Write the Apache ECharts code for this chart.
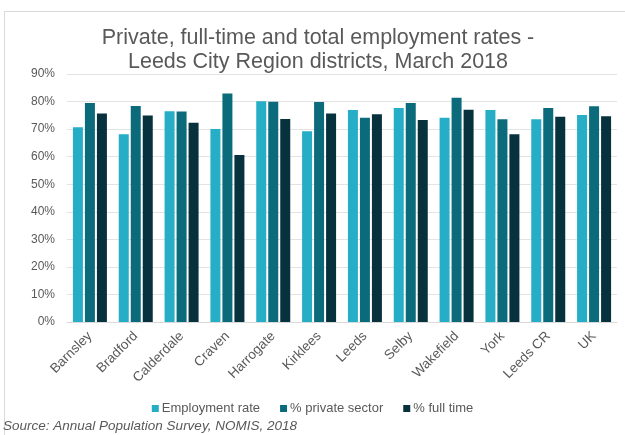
<!DOCTYPE html>
<html>
<head>
<meta charset="utf-8">
<script src="https://cdn.jsdelivr.net/npm/echarts@6/dist/echarts.min.js"></script>
<style>
  html, body { margin: 0; padding: 0; background: #fff; }
  #chart { width: 625px; height: 435px; }
</style>
</head>
<body>
<div id="chart"></div>
<script>
// Districts of the Leeds City Region plus comparators
const districts = ['Barnsley', 'Bradford', 'Calderdale', 'Craven', 'Harrogate', 'Kirklees',
  'Leeds', 'Selby', 'Wakefield', 'York', 'Leeds CR', 'UK'];

// Rates in percent, March 2018
const employmentRate = [70.7, 68.1, 76.5, 70.0, 80.1, 69.2, 76.9, 77.7, 74.1, 76.9, 73.6, 75.1];
const privateSector  = [79.5, 78.4, 76.4, 82.9, 79.9, 79.8, 74.1, 79.5, 81.4, 73.6, 77.7, 78.3];
const fullTime       = [75.7, 74.9, 72.3, 60.6, 73.7, 75.7, 75.4, 73.3, 77.0, 68.1, 74.5, 74.7];

const seriesNames = ['Employment rate', '% private sector', '% full time'];
const seriesColors = ['#25aec6', '#0b6b7b', '#06313d'];

const chart = echarts.init(document.getElementById('chart'), null, { renderer: 'canvas' });
const font = '"Liberation Sans", Arial, sans-serif';

const values = [employmentRate, privateSector, fullTime];

chart.setOption({
  animation: false,
  textStyle: { fontFamily: font },
  title: {
    text: 'Private, full-time and total employment rates -\nLeeds City Region districts, March 2018',
    left: 313,
    top: 21,
    textAlign: 'center',
    textStyle: { fontFamily: font, fontSize: 21.5, fontWeight: 'normal', color: '#595959', lineHeight: 24 }
  },
  legend: {
    data: seriesNames,
    left: 'center',
    top: 397,
    itemWidth: 7,
    itemHeight: 7,
    itemGap: 20,
    icon: 'rect',
    textStyle: { fontFamily: font, fontSize: 13, color: '#595959', padding: [0, 0, 0, -2] }
  },
  grid: { left: 67, right: 8, top: 74, bottom: 113, containLabel: false },
  xAxis: {
    type: 'category',
    data: districts,
    axisLine: { lineStyle: { color: '#d9d9d9' } },
    axisTick: { show: false },
    axisLabel: { rotate: 45, color: '#595959', fontSize: 13.5, fontFamily: font, margin: 12, interval: 0 }
  },
  yAxis: {
    type: 'value',
    min: 0,
    max: 90,
    interval: 10,
    axisLine: { show: false },
    axisTick: { show: false },
    splitLine: { lineStyle: { color: '#e3e3e3' } },
    axisLabel: { formatter: '{value}%', color: '#595959', fontSize: 12, fontFamily: font, margin: 12 }
  },
  series: seriesNames.map((name, i) => ({
    name: name,
    type: 'bar',
    data: values[i],
    barWidth: 10,
    barGap: '20%',
    itemStyle: { color: seriesColors[i] }
  })),
  graphic: [
    {
      type: 'rect',
      shape: { x: 4.5, y: 11.5, width: 700, height: 500 },
      style: { fill: 'none', stroke: '#d9d9d9', lineWidth: 1 },
      silent: true
    },
    {
      type: 'text',
      left: 3,
      top: 419,
      style: {
        text: 'Source: Annual Population Survey, NOMIS, 2018',
        fontFamily: font,
        fontSize: 13.5,
        fontStyle: 'italic',
        fill: '#595959'
      }
    }
  ]
});
</script>
</body>
</html>
